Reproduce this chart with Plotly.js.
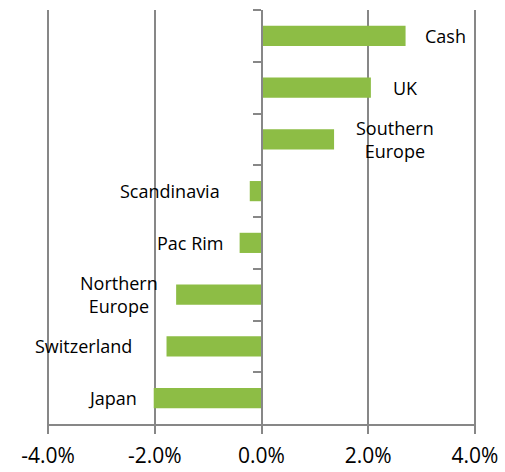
<!DOCTYPE html>
<html>
<head>
<meta charset="utf-8">
<script src="https://cdn.plot.ly/plotly-3.0.1.min.js"></script>
<style>html,body{margin:0;padding:0;background:#fff;}#chart{width:505px;height:472px;}</style>
</head>
<body>
<div id="chart"></div>
<script>
var categories = ["Cash", "UK", "Southern Europe", "Scandinavia", "Pac Rim", "Northern Europe", "Switzerland", "Japan"];
var labels = ["Cash", "UK", "Southern<br>Europe", "Scandinavia", "Pac Rim", "Northern<br>Europe", "Switzerland", "Japan"];
var values = [0.0270, 0.0205, 0.0136, -0.0022, -0.0041, -0.0160, -0.0178, -0.0202];
var tickVals = [-0.04, -0.02, 0, 0.02, 0.04];
var tickText = ["-4.0%", "-2.0%", "0.0%", "2.0%", "4.0%"];

// label anchor positions (layout only)
var labelX = [0.0345, 0.0269, 0.0250, -0.0172, -0.0134, -0.0267, -0.0334, -0.0280];

var font = "Open Sans, Liberation Sans, sans-serif";

var annotations = categories.map(function (c, i) {
  return {
    x: labelX[i], y: c, xref: "x", yref: "y",
    text: labels[i], showarrow: false,
    font: {family: font, size: 18, color: "#000"},
    xanchor: "center", yanchor: "middle", align: "center"
  };
});

var trace = {
  type: "bar", orientation: "h",
  x: values, y: categories,
  marker: {color: "#8DBD45"},
  hoverinfo: "none"
};

var layout = {
  width: 505, height: 472,
  margin: {l: 47, r: 29, t: 10, b: 48},
  paper_bgcolor: "#fff", plot_bgcolor: "#fff",
  showlegend: false,
  bargap: 0.61,
  xaxis: {
    range: [-0.0402, 0.0402],
    tickvals: tickVals, ticktext: tickText,
    showgrid: true, gridcolor: "#878787", gridwidth: 2,
    zeroline: false,
    showline: true, linecolor: "#878787", linewidth: 2,
    ticks: "outside", ticklen: 8, tickcolor: "#878787", tickwidth: 2,
    ticklabelstandoff: 4,
    tickfont: {family: font, size: 21, color: "#000"},
    fixedrange: true
  },
  yaxis: {
    autorange: "reversed",
    type: "category",
    anchor: "free", position: 0.5,
    showline: true, linecolor: "#878787", linewidth: 2,
    ticks: "outside", tickson: "boundaries", ticklen: 8, tickcolor: "#878787", tickwidth: 2,
    showticklabels: false, showgrid: false, zeroline: false,
    fixedrange: true
  },
  annotations: annotations
};

Plotly.newPlot("chart", [trace], layout, {displayModeBar: false, staticPlot: true});
</script>
</body>
</html>
